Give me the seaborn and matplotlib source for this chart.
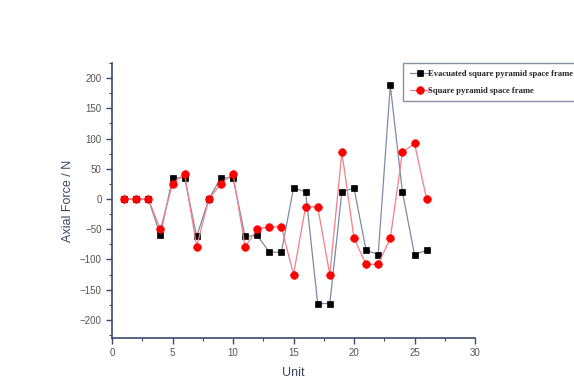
import numpy as np
import pandas as pd
import matplotlib
matplotlib.use("Agg")
import matplotlib.pyplot as plt
import seaborn as sns

units = list(range(1, 27))
evacuated = [0, 0, 0, -60, 35, 35, -62, 0, 35, 35, -62, -60, -88, -88, 18, 12,
             -173, -173, 12, 18, -85, -92, 188, 12, -92, -85]
square = [0, 0, 0, -50, 25, 42, -79, 0, 25, 42, -79, -50, -46, -46, -125, -13,
          -13, -125, 77, -65, -108, -108, -65, 77, 92, 0]
label_evac = "Evacuated square pyramid space frame"
label_sq = "Square pyramid space frame"

df = pd.DataFrame({"Unit": units, "evac": evacuated, "sq": square})

sns.set_style("white")
plt.rcParams['font.family'] = ['Liberation Sans', 'DejaVu Sans']

fig = plt.figure(figsize=(5.74, 3.92), dpi=100)
ax = fig.add_axes([112/574, 1-338/392, (475-112)/574, (338-63)/392])

sns.lineplot(data=df, x="Unit", y="evac", ax=ax, color="#7f8aa6", linewidth=0.9,
             marker="s", markersize=4.8, markerfacecolor="black",
             markeredgecolor="black", markeredgewidth=0.5, label=label_evac)
sns.lineplot(data=df, x="Unit", y="sq", ax=ax, color="#f27f8a", linewidth=0.9,
             marker="o", markersize=5.5, markerfacecolor="red",
             markeredgecolor="red", markeredgewidth=0.5, label=label_sq)

ax.set_xlim(0, 30)
ax.set_ylim(-230, 225)
ax.set_xticks([0, 5, 10, 15, 20, 25, 30])
ax.set_yticks([-200, -150, -100, -50, 0, 50, 100, 150, 200])
ax.set_xticks(np.arange(2.5, 30, 5), minor=True)
ax.set_yticks(np.arange(-225, 226, 50), minor=True)

spine_col = "#3a4a6a"
for s in ["top", "right"]:
    ax.spines[s].set_visible(False)
for s in ["left", "bottom"]:
    ax.spines[s].set_color(spine_col)
    ax.spines[s].set_linewidth(1.2)
ax.tick_params(axis="both", which="major", direction="out", length=4,
               width=1, color=spine_col, labelsize=7, labelcolor="#555555",
               left=True, bottom=True)
ax.tick_params(axis="both", which="minor", direction="out", length=2.5,
               width=0.8, color=spine_col, left=True, bottom=True)

ax.set_xlabel("Unit", fontsize=9, color="#3a4660", labelpad=6)
ax.set_ylabel("Axial Force / N", fontsize=9, color="#3a4660", labelpad=4)

leg = ax.legend(loc="upper left", bbox_to_anchor=(403/574, 1-63/392),
                bbox_transform=fig.transFigure, frameon=True, fancybox=False,
                prop={"family": "Liberation Serif", "weight": "bold", "size": 6.2},
                handlelength=2.4, borderpad=0.8, labelspacing=1.0,
                handletextpad=-0.3, borderaxespad=0, markerscale=1.0)
leg.get_frame().set_edgecolor("#6a7488")
leg.get_frame().set_linewidth(1.0)

fig.savefig("out.png", dpi=100)
